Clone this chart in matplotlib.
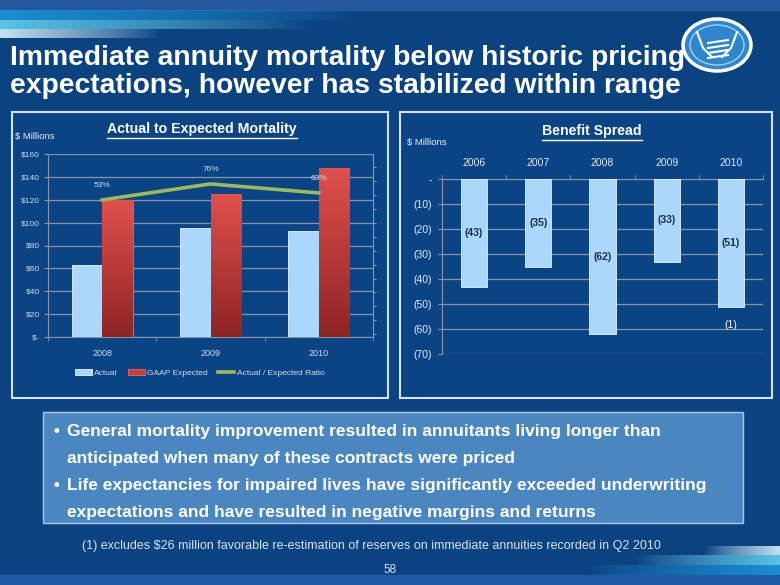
import numpy as np
import matplotlib
matplotlib.use("Agg")
import matplotlib.pyplot as plt
from matplotlib.patches import Rectangle, Ellipse
from matplotlib.colors import to_rgb

plt.rcParams['font.family'] = ['Liberation Sans', 'DejaVu Sans']

# ---------------- data ----------------
mort_years = ["2008", "2009", "2010"]
mort_actual = [63, 95, 93]
mort_gaap = [119, 125, 147]
mort_ratio = [53, 76, 63]
mort_yticks = [0, 20, 40, 60, 80, 100, 120, 140, 160]
mort_yticklabels = ["$-", "$20", "$40", "$60", "$80", "$100", "$120", "$140", "$160"]

spread_years = ["2006", "2007", "2008", "2009", "2010"]
spread_values = [-43, -35, -62, -33, -51]
spread_labels = ["(43)", "(35)", "(62)", "(33)", "(51)"]
spread_yticks = [0, -10, -20, -30, -40, -50, -60, -70]
spread_yticklabels = ["-", "(10)", "(20)", "(30)", "(40)", "(50)", "(60)", "(70)"]

title_lines = ["Immediate annuity mortality below historic pricing",
               "expectations, however has stabilized within range"]
bullets = [["General mortality improvement resulted in annuitants living longer than",
            "anticipated when many of these contracts were priced"],
           ["Life expectancies for impaired lives have significantly exceeded underwriting",
            "expectations and have resulted in negative margins and returns"]]
footnote = "(1) excludes $26 million favorable re-estimation of reserves on immediate annuities recorded in Q2 2010"
page_no = "58"

# ---------------- figure ----------------
W, H = 780, 585
BG = '#0b4280'
fig = plt.figure(figsize=(W / 100, H / 100), dpi=100, facecolor=BG)
bg = fig.add_axes([0, 0, 1, 1])
bg.set_xlim(0, W)
bg.set_ylim(H, 0)
bg.axis('off')


def stripe(x0, x1, y0, y1, color, fade_to_right=True, alpha_max=1.0):
    n = 200
    a = np.linspace(alpha_max, 0, n)
    if not fade_to_right:
        a = a[::-1]
    a = a ** 0.8
    rgb = to_rgb(color)
    img = np.zeros((1, n, 4))
    img[..., 0], img[..., 1], img[..., 2] = rgb
    img[0, :, 3] = a
    bg.imshow(img, extent=(x0, x1, y1, y0), aspect='auto', zorder=1, interpolation='bilinear')


# top decorative stripes
bg.add_patch(Rectangle((0, 0), W, 10, color='#23599c', zorder=0.5))
stripe(0, 360, 10, 20, '#1b8fd2')
stripe(0, 310, 20, 29, '#5cc4e6')
stripe(0, 160, 29, 38, '#c4e2f2')
# bottom-right decorative stripes
bg.add_patch(Rectangle((0, 575), W, 10, color='#1d5aa2', zorder=0.5))
stripe(585, W, 565, 575, '#1b8fd2', fade_to_right=False)
stripe(635, W, 555, 565, '#5cc4e6', fade_to_right=False)
stripe(705, W, 546, 555, '#c4e2f2', fade_to_right=False)

# logo (simplified oval)
bg.add_patch(Ellipse((717, 45), 68, 52, facecolor='#2f86cc', edgecolor='white', lw=2.5, zorder=3))
bg.add_patch(Ellipse((717, 45), 54, 40, facecolor='none', edgecolor='#9fd0f0', lw=1.0, zorder=3))
for dy in (-2, 3, 8, 13):
    bg.plot([708, 728], [45 + dy, 42 + dy], color='white', lw=1.5, zorder=4)
bg.plot([697, 703, 712], [32, 48, 57], color='white', lw=1.5, zorder=4)
bg.plot([737, 731, 722], [32, 48, 57], color='white', lw=1.5, zorder=4)

# title
for i, t in enumerate(title_lines):
    bg.text(10, 65 + i * 28, t, color='white', fontsize=20.3, fontweight='bold',
            va='baseline', ha='left', zorder=5)

# chart panels
bg.add_patch(Rectangle((12, 112), 376, 286, facecolor='#0b4484', edgecolor='#d8e2ee', lw=1.5, zorder=2))
bg.add_patch(Rectangle((400, 112), 372, 286, facecolor='#0b4484', edgecolor='#d8e2ee', lw=1.5, zorder=2))

# bullet box
bg.add_patch(Rectangle((43, 412), 700, 111, facecolor='#4a86c0', edgecolor='#b0c8e2', lw=1.0, zorder=2))
yb = [436, 463, 490, 517]
k = 0
for b in bullets:
    for j, line in enumerate(b):
        if j == 0:
            bg.text(54, yb[k], "\u2022", color='white', fontsize=12, fontweight='bold',
                    va='baseline', ha='left', zorder=5)
        bg.text(67, yb[k], line, color='white', fontsize=12.5, fontweight='bold',
                va='baseline', ha='left', zorder=5)
        k += 1

bg.text(82, 549, footnote, color='#d8e2ee', fontsize=9, va='baseline', ha='left', zorder=5)
bg.text(390, 573, page_no, color='#d8e2ee', fontsize=8.5, va='baseline', ha='center', zorder=5)

# chart titles
t1 = bg.text(202, 133, "Actual to Expected Mortality", color='white', fontsize=10.2,
             fontweight='bold', ha='center', va='baseline', zorder=5)
t2 = bg.text(592, 135, "Benefit Spread", color='white', fontsize=10.2,
             fontweight='bold', ha='center', va='baseline', zorder=5)
bg.text(15, 139, "$ Millions", color='#e8eef6', fontsize=6.8, ha='left', va='baseline', zorder=5)
bg.text(407, 145, "$ Millions", color='#e8eef6', fontsize=6.8, ha='left', va='baseline', zorder=5)


def pax(x0, y0, x1, y1):
    return fig.add_axes([x0 / W, 1 - y1 / H, (x1 - x0) / W, (y1 - y0) / H])


def gradient_bars(axis, bars, top_color, bottom_color):
    t = np.array(to_rgb(top_color))
    b = np.array(to_rgb(bottom_color))
    n = 100
    f = np.linspace(0, 1, n)[:, None]
    col = t[None, :] * (1 - f) + b[None, :] * f
    img = col[:, None, :]
    for bar in bars:
        x0, y0 = bar.get_x(), bar.get_y()
        w, h = bar.get_width(), bar.get_height()
        axis.imshow(img, extent=(x0, x0 + w, y0, y0 + h), origin='upper' if h >= 0 else 'lower',
                    aspect='auto', zorder=3.1, interpolation='bilinear')


GRID = '#8794a8'
LBL = '#d2dae4'

# ---------------- left chart ----------------
ax = pax(48, 154, 373, 337)
ax.set_facecolor('none')
x = np.arange(len(mort_years))
bw = 0.283
ax.bar(x - bw / 2, mort_actual, bw, color='#a9d8fc', edgecolor='#e6f4ff', lw=0.6, zorder=3, label='Actual')
gb = ax.bar(x + bw / 2, mort_gaap, bw, color='#c93c3a', edgecolor='#e86a66', lw=0.6, zorder=3,
            label='GAAP Expected')
gradient_bars(ax, gb, '#e0504c', '#8e2424')
ax.set_xlim(-0.5, 2.5)
ax.set_ylim(0, 160)
ax.set_yticks(mort_yticks)
ax.set_yticklabels(mort_yticklabels, color=LBL, fontsize=6)
ax.set_xticks(x)
ax.set_xticklabels(mort_years, color=LBL, fontsize=6.5)
ax.tick_params(axis='x', length=0, pad=9)
ax.tick_params(axis='y', length=3, color=GRID, pad=3)
ax.set_xticks([-0.5, 0.5, 1.5, 2.5], minor=True)
ax.tick_params(axis='x', which='minor', length=3, color=GRID)
ax.grid(axis='y', color=GRID, lw=0.9, zorder=0)
for s in ['top', 'right']:
    ax.spines[s].set_visible(False)
for s in ['left', 'bottom']:
    ax.spines[s].set_color(GRID)
ax2 = ax.twinx()
ax2.set_ylim(-144, 119)
ax2.plot(x, mort_ratio, color='#9bbb59', lw=2.6, zorder=4, label='Actual / Expected Ratio')
for xi, r in zip(x, mort_ratio):
    ax2.annotate(f"{r}%", (xi, r), xytext=(0, 8), textcoords='offset points',
                 ha='center', va='bottom', color=LBL, fontsize=6)
ax2.set_yticks(np.arange(-140, 120, 20))
ax2.set_yticklabels([])
ax2.tick_params(axis='y', length=2.5, color=GRID)
for s in ['top', 'left', 'bottom']:
    ax2.spines[s].set_visible(False)
ax2.spines['right'].set_color(GRID)

h1, l1 = ax.get_legend_handles_labels()
h2, l2 = ax2.get_legend_handles_labels()
leg = fig.legend(h1 + h2, l1 + l2, loc='center', bbox_to_anchor=(200 / W, 1 - 373 / H),
                 ncol=3, frameon=False, fontsize=6, labelcolor=LBL, handlelength=2.0,
                 handleheight=0.8, columnspacing=1.2, handletextpad=0.3)

# ---------------- right chart ----------------
bx = pax(442, 179, 763, 354)
bx.set_facecolor('none')
xs = np.arange(len(spread_years))
bars = bx.bar(xs, spread_values, 0.41, color='#a9d8fc', edgecolor='#e6f4ff', lw=0.6, zorder=3)
bx.set_xlim(-0.5, 4.5)
bx.set_ylim(-70, 0)
bx.set_yticks(spread_yticks)
bx.set_yticklabels(spread_yticklabels, color='#e2e8f0', fontsize=7.5)
bx.xaxis.tick_top()
bx.set_xticks(xs)
bx.set_xticklabels(spread_years, color='#e2e8f0', fontsize=7.5)
bx.tick_params(axis='x', length=0, pad=8)
bx.set_xticks(np.arange(-0.5, 5, 1), minor=True)
bx.tick_params(axis='x', which='minor', length=3, color=GRID, top=True, bottom=False)
bx.tick_params(axis='y', length=3, color=GRID, pad=4)
bx.grid(axis='y', color=GRID, lw=0.9, zorder=0)
for s in ['right', 'bottom']:
    bx.spines[s].set_visible(False)
for s in ['left', 'top']:
    bx.spines[s].set_color(GRID)
for xi, v, lab in zip(xs, spread_values, spread_labels):
    bx.text(xi, v / 2, lab, ha='center', va='center', color='#1c2c44', fontsize=7.5,
            fontweight='bold', zorder=5)
bx.text(xs[-1], -58.3, "(1)", ha='center', va='center', color='white', fontsize=7.5, zorder=5)

# underline chart titles
fig.canvas.draw()
for t in (t1, t2):
    bb = t.get_window_extent()
    yline = H - bb.y0 + 1.5
    bg.plot([bb.x0, bb.x1], [yline, yline], color='white', lw=1.0, zorder=5)

fig.savefig("out.png", dpi=100, facecolor=BG)
